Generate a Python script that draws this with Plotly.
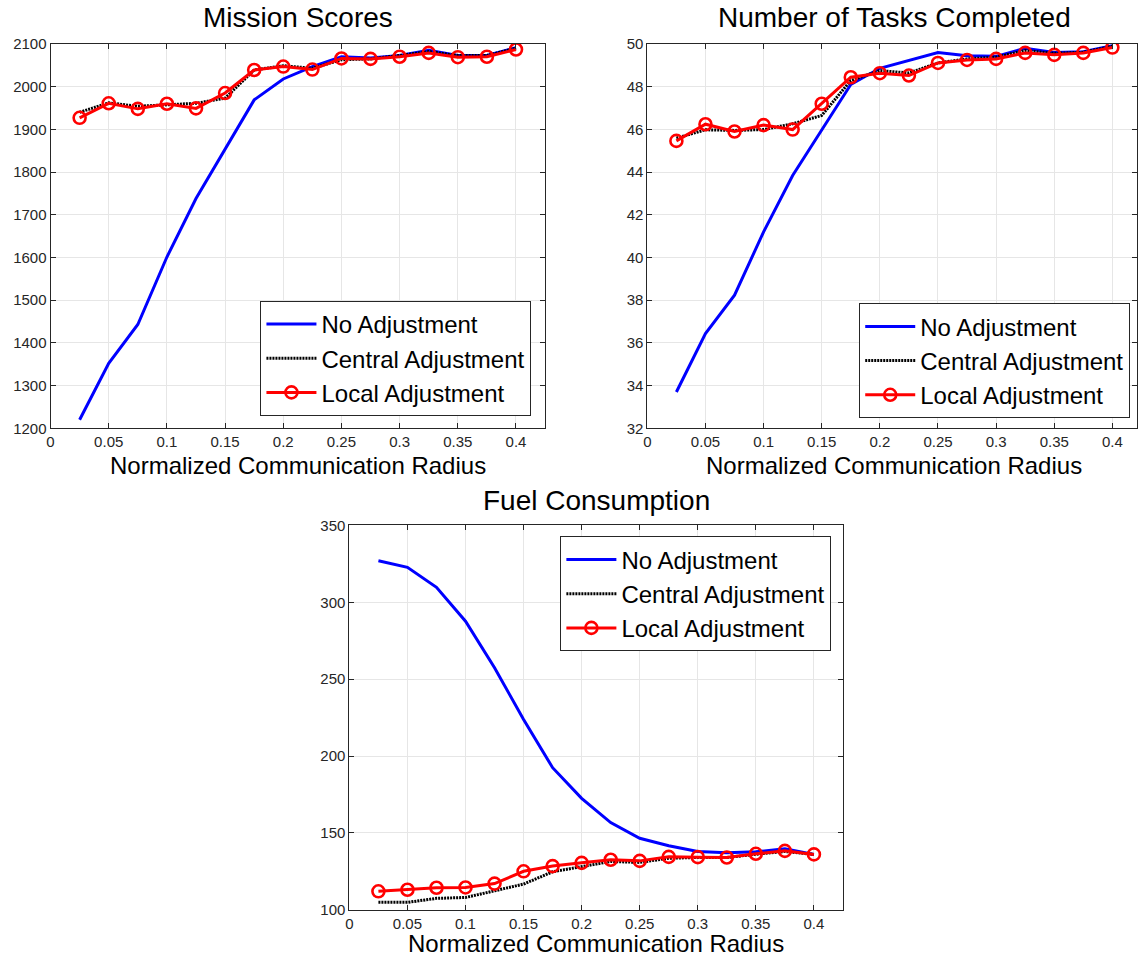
import plotly.graph_objects as go

# Normalized communication radius (shared x values)
radius = [0.025, 0.05, 0.075, 0.1, 0.125, 0.15, 0.175, 0.2,
          0.225, 0.25, 0.275, 0.3, 0.325, 0.35, 0.375, 0.4]

# Mission scores
score_none = [1220, 1352, 1443, 1601, 1738, 1855, 1969, 2018,
              2047, 2070, 2067, 2073, 2085, 2073, 2073, 2091]
score_central = [1940, 1962, 1954, 1957, 1961, 1973, 2039, 2049,
                 2043, 2063, 2065, 2073, 2082, 2073, 2073, 2090]
score_local = [1927, 1961, 1948, 1960, 1949, 1985, 2039, 2047,
               2040, 2066, 2065, 2070, 2079, 2069, 2070, 2087]

# Number of tasks completed
tasks_none = [33.7, 36.44, 38.23, 41.2, 43.84, 45.95, 48.1, 48.86,
              49.22, 49.6, 49.45, 49.42, 49.8, 49.6, 49.64, 49.92]
tasks_central = [45.59, 45.98, 45.95, 45.99, 46.26, 46.65, 48.29, 48.75,
                 48.64, 49.11, 49.3, 49.38, 49.69, 49.56, 49.61, 49.89]
tasks_local = [45.46, 46.24, 45.9, 46.2, 45.99, 47.2, 48.44, 48.63,
               48.52, 49.11, 49.25, 49.3, 49.58, 49.49, 49.58, 49.83]

# Fuel consumption
fuel_none = [327, 322.7, 309.7, 287.7, 257.4, 223.8, 192.4, 172.5,
             156.7, 146.5, 141.6, 137.9, 137, 137.7, 139.6, 136]
fuel_central = [104.8, 104.8, 107.4, 108, 112.3, 116.7, 124.7, 128.2,
                131.4, 130.8, 133.5, 134, 134, 136.1, 137.9, 136]
fuel_local = [112, 113, 114.3, 114.5, 117, 125, 128.4, 130.5,
              132.5, 131.8, 134.4, 134.2, 134, 136.4, 138.3, 136]

x_tickvals = [0, 0.05, 0.1, 0.15, 0.2, 0.25, 0.3, 0.35, 0.4]
x_ticktext = ["0", "0.05", "0.1", "0.15", "0.2", "0.25", "0.3", "0.35", "0.4"]

score_ticks = [1200, 1300, 1400, 1500, 1600, 1700, 1800, 1900, 2000, 2100]
tasks_ticks = [32, 34, 36, 38, 40, 42, 44, 46, 48, 50]
fuel_ticks = [100, 150, 200, 250, 300, 350]

series_names = ["No Adjustment", "Central Adjustment", "Local Adjustment"]
titles = ["Mission Scores", "Number of Tasks Completed", "Fuel Consumption"]
x_label = "Normalized Communication Radius"

W, H = 1138, 961
FONT = "Liberation Sans, Arial, Helvetica, sans-serif"


def px_x(p):
    return p / W


def px_y(p):
    # vertical pixel position, measured from the top of the page
    return 1 - (p - 6.7) / 0.984 / H


# Axes boxes in pixel coordinates: (left, right, top, bottom, xmax)
boxes = [
    (46.7, 543.0, 41.7, 426.7, 0.425),
    (645.6, 1137.0, 41.7, 426.7, 0.4212),
    (346.6, 841.9, 524.0, 909.0, 0.425),
]
title_y = [15.0, 15.0, 499.0]
xlabel_y = [464.0, 464.0, 943.0]

panels = [
    (score_none, score_central, score_local, score_ticks, [1200, 2100]),
    (tasks_none, tasks_central, tasks_local, tasks_ticks, [32, 50]),
    (fuel_none, fuel_central, fuel_local, fuel_ticks, [100, 350]),
]

fig = go.Figure()

legend_ids = ["legend", "legend2", "legend3"]

for i, (none, central, local, yt, yr) in enumerate(panels):
    sfx = "" if i == 0 else str(i + 1)
    xa, ya = "x" + sfx, "y" + sfx
    fig.add_trace(go.Scatter(
        x=radius, y=none, mode="lines", name=series_names[0],
        line=dict(color="#0000ff", width=3),
        xaxis=xa, yaxis=ya, legend=legend_ids[i]))
    fig.add_trace(go.Scatter(
        x=radius, y=central, mode="lines", name=series_names[1],
        line=dict(color="#000000", width=3, dash="2px,1px"),
        xaxis=xa, yaxis=ya, legend=legend_ids[i]))
    fig.add_trace(go.Scatter(
        x=radius, y=local, mode="lines+markers", name=series_names[2],
        line=dict(color="#ff0000", width=3),
        marker=dict(symbol="circle-open", size=12, color="#ff0000",
                    line=dict(width=2.6, color="#ff0000")),
        xaxis=xa, yaxis=ya, legend=legend_ids[i]))

    left, right, top, bottom, xmax = boxes[i]
    axis_common = dict(
        showline=True, linecolor="#262626", linewidth=1, mirror="ticks",
        ticks="inside", ticklen=5, tickcolor="#262626",
        showgrid=True, gridcolor="#e6e6e6", gridwidth=1,
        zeroline=False,
        tickfont=dict(family=FONT, size=15, color="#262626"),
    )
    fig.update_layout({
        "xaxis" + sfx: dict(
            domain=[px_x(left), min(1.0, px_x(right))], range=[0, xmax],
            tickvals=x_tickvals, ticktext=x_ticktext, anchor=ya,
            **axis_common),
        "yaxis" + sfx: dict(
            domain=[px_y(bottom), px_y(top)], range=yr,
            tickvals=yt, anchor=xa, **axis_common),
    })

    cx = (left + (left + (right - left) * 0.425 / xmax)) / 2
    fig.add_annotation(
        text=titles[i], x=px_x(cx), y=px_y(title_y[i]), xref="paper",
        yref="paper", xanchor="center", yanchor="middle", showarrow=False,
        font=dict(family=FONT, size=28, color="#000000"))
    fig.add_annotation(
        text=x_label, x=px_x(cx), y=px_y(xlabel_y[i]), xref="paper",
        yref="paper", xanchor="center", yanchor="middle", showarrow=False,
        font=dict(family=FONT, size=24, color="#000000"))

legend_style = dict(
    bgcolor="#ffffff", bordercolor="#262626", borderwidth=1,
    font=dict(family=FONT, size=24, color="#000000"),
    xref="paper", yref="paper", tracegroupgap=0, itemwidth=50,
)

fig.update_layout(
    width=W, height=H,
    margin=dict(l=0, r=0, t=0, b=0),
    paper_bgcolor="#ffffff", plot_bgcolor="#ffffff",
    showlegend=True,
    legend=dict(x=px_x(529.3), y=px_y(414.3), xanchor="right",
                yanchor="bottom", **legend_style),
    legend2=dict(x=px_x(1130.2), y=px_y(416.7), xanchor="right",
                 yanchor="bottom", **legend_style),
    legend3=dict(x=px_x(830.3), y=px_y(535), xanchor="right", yanchor="top",
                 **legend_style),
)

fig.write_html("out.html")
